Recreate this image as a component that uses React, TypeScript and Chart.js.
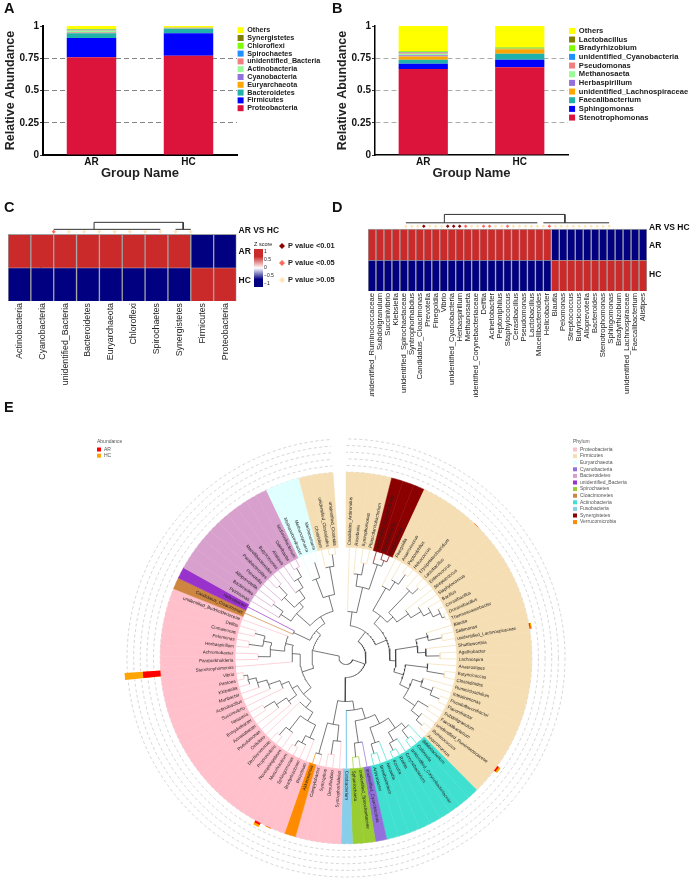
import React, { useEffect, useRef } from "react";
import { Chart, registerables } from "chart.js";
Chart.register(...registerables);

const FONT = "'Liberation Sans', Arial, sans-serif";

// Panels A and B
const groups = ["AR", "HC"];
const yTickLabels = ["0", "0.25", "0.5", "0.75", "1"];
const stackColors = ["#DC143C", "#0000FF", "#20B2AA", "#FFA500", "#9370DB", "#98FB98", "#F08080", "#1E90FF", "#7CFC00", "#808000", "#FFFF00"];
const phylaNames = ["Proteobacteria", "Firmicutes", "Bacteroidetes", "Euryarchaeota", "Cyanobacteria", "Actinobacteria", "unidentified_Bacteria", "Spirochaetes", "Chloroflexi", "Synergistetes", "Others"];
const phylaAR = [0.757, 0.15, 0.036, 0.005, 0.004, 0.012, 0.004, 0.003, 0.003, 0.003, 0.023];
const phylaHC = [0.77, 0.173, 0.036, 0.002, 0.002, 0.002, 0.001, 0.001, 0.001, 0.001, 0.011];
const generaNames = ["Stenotrophomonas", "Sphingomonas", "Faecalibacterium", "unidentified_Lachnospiraceae", "Herbaspirillum", "Methanosaeta", "Pseudomonas", "unidentified_Cyanobacteria", "Bradyrhizobium", "Lactobacillus", "Others"];
const generaAR = [0.666, 0.041, 0.031, 0.025, 0.01, 0.012, 0.01, 0.004, 0.005, 0.003, 0.193];
const generaHC = [0.681, 0.057, 0.046, 0.036, 0.001, 0.001, 0.001, 0.001, 0.009, 0.002, 0.165];

// Panel C
const heatCLabels = ["Actinobacteria", "Cyanobacteria", "unidentified_Bacteria", "Bacteroidetes", "Euryarchaeota", "Chloroflexi", "Spirochaetes", "Synergistetes", "Firmicutes", "Proteobacteria"];
const heatCAR = [1, 1, 1, 1, 1, 1, 1, 1, -1, -1];
const heatCHC = [-1, -1, -1, -1, -1, -1, -1, -1, 1, 1];
const heatCP = [1, 2, 2, 2, 2, 2, 2, 2, 2, 2];
const dendroCTop = [
  [[2.65, 2.15], [2.65, 2.36], [8.5, 2.36], [8.5, 2.15]],
  [[0, 2.15], [7, 2.15]],
  [[8, 2.15], [9, 2.15]],
  [[-0.5, 1.5], [-0.85, 1.5], [-0.85, 0.5], [-0.5, 0.5]],
];

// Panel D
const heatDLabels = ["unidentified_Ruminococcaceae", "Subdoligranulum", "Succinivibrio", "Klebsiella", "unidentified_Spirochaetaceae", "Syntrophorhabdus", "Candidatus_Cloacimonas", "Prevotella", "Finegoldia", "Vibrio", "unidentified_Cyanobacteria", "Herbaspirillum", "Methanosaeta", "unidentified_Corynebacteriaceae", "Delftia", "Acinetobacter", "Peptoniphilus", "Staphylococcus", "Cerasibacillus", "Pseudomonas", "Lactobacillus", "Macellibacteroides", "Helicobacter", "Blautia", "Pelomonas", "Streptococcus", "Butyricicoccus", "Alloprevotella", "Bacteroides", "Stenotrophomonas", "Sphingomonas", "Bradyrhizobium", "unidentified_Lachnospiraceae", "Faecalibacterium", "Alistipes"];
const heatDAR = [1, 1, 1, 1, 1, 1, 1, 1, 1, 1, 1, 1, 1, 1, 1, 1, 1, 1, 1, 1, 1, 1, 1, -1, -1, -1, -1, -1, -1, -1, -1, -1, -1, -1, -1];
const heatDHC = [-1, -1, -1, -1, -1, -1, -1, -1, -1, -1, -1, -1, -1, -1, -1, -1, -1, -1, -1, -1, -1, -1, -1, 1, 1, 1, 1, 1, 1, 1, 1, 1, 1, 1, 1];
const heatDP = [2, 2, 2, 0, 2, 2, 2, 0, 0, 0, 1, 2, 2, 1, 1, 2, 2, 1, 2, 2, 2, 2, 2, 2, 1, 2, 2, 2, 2, 2, 2, 2, 2, 2, 2];
const dendroDTop = [
  [[6.44, 2.2], [6.44, 2.47], [26.6, 2.47], [26.6, 2.2]],
  [[0, 2.2], [22, 2.2]],
  [[23, 2.2], [34, 2.2]],
  [[-0.5, 1.5], [-1.63, 1.5], [-1.63, 0.5], [-0.5, 0.5]],
];
const pColors = ["#8B0000", "#FF6A5A", "#FFE4B5"];
const pLabels = ["P value <0.01", "P value <0.05", "P value >0.05"];
const zTicks = ["1", "0.5", "0", "\u22120.5", "\u22121"];

// Panel E
const phylumColors: Record<string, string> = {
  Proteobacteria: "#FFC0CB", Firmicutes: "#F5DEB3", Euryarchaeota: "#E0FFFF", Cyanobacteria: "#9370DB", Bacteroidetes: "#D8A0CC", unidentified_Bacteria: "#9932CC",
  Spirochaetes: "#9ACD32", Cloacimonetes: "#CD853F", Actinobacteria: "#40E0D0", Fusobacteria: "#87CEEB", Synergistetes: "#8B0000", Verrucomicrobia: "#FF8C00",
};
const phylumRuns: [string, number][] = [["Firmicutes", 4], ["Synergistetes", 3], ["Firmicutes", 31], ["Actinobacteria", 9], ["Cyanobacteria", 1], ["Spirochaetes", 2], ["Fusobacteria", 1], ["Proteobacteria", 4], ["Verrucomicrobia", 1], ["Proteobacteria", 26], ["Cloacimonetes", 1], ["unidentified_Bacteria", 1], ["Bacteroidetes", 10], ["Euryarchaeota", 3], ["Firmicutes", 3]];
const genusLabels = ["Candidatus_Arthromitus", "Roseburia", "Syntrophomonas", "Phascolarctobacterium", "unidentified_Synergistaceae", "Pyramidobacter", "Fretibacterium",
  "Finegoldia", "Anaerococcus", "Peptoniphilus", "Helcococcus", "Erysipelatoclostridium", "Lactobacillus", "Enterococcus", "Streptococcus", "Staphylococcus", "Bacillus", "Cerasibacillus", "Oceanobacillus", "Thermoanaerobacter", "Blautia", "Sellimonas", "unidentified_Lachnospiraceae", "Shuttleworthia", "Agathobacter", "Lachnospira", "Anaerostipes", "Butyricicoccus", "Clostridioides", "Ruminiclostridium", "Intestinimonas", "Pseudoflavonifractor", "Flavonifractor", "Subdoligranulum", "Faecalibacterium", "unidentified_Ruminococcaceae", "Ruminococcus", "Anaerotruncus",
  "Bifidobacterium", "Collinsella", "unidentified_Corynebacteriaceae", "Corynebacterium", "Rothia", "Kocuria", "Nocardia", "Brevibacterium", "Arthrobacter",
  "unidentified_Cyanobacteria", "unidentified_Spirochaetaceae", "Sphaerochaeta", "Cetobacterium",
  "Syntrophorhabdus", "Desulfovibrio", "Syntrophus", "Campylobacter", "Akkermansia",
  "Rhizobium", "Bradyrhizobium", "Sphingomonas", "Mesorhizobium", "Novosphingobium", "Propionivibrio", "Dechloromonas", "Cellvibrio", "Pseudomonas", "Acinetobacter", "Enhydrobacter", "Neisseria", "Succinivibrio", "Actinobacillus", "Muribacter", "Klebsiella", "Pantoea", "Vibrio", "Stenotrophomonas", "Paraburkholderia", "Achromobacter", "Herbaspirillum", "Pelomonas", "Comamonas", "Delftia", "unidentified_Burkholderiaceae",
  "Candidatus_Cloacimonas", "Helicobacter", "Petrimonas", "Bacteroides", "Alloprevotella", "Prevotella", "Parabacteroides", "Macellibacteroides", "Butyricimonas", "Alistipes", "Odoribacter", "Sediminibacterium",
  "Methanobrevibacter", "Methanosphaera", "Methanosaeta", "Clostridium", "unidentified_Clostridiales", "unidentified_Clostridia"];
const abundanceAR: Record<string, number> = { Stenotrophomonas: 0.67, Sphingomonas: 0.08, Bradyrhizobium: 0.008, unidentified_Ruminococcaceae: 0.07, unidentified_Lachnospiraceae: 0.04, Lactobacillus: 0.005 };
const abundanceHC: Record<string, number> = { Stenotrophomonas: 0.69, Sphingomonas: 0.09, Bradyrhizobium: 0.03, unidentified_Ruminococcaceae: 0.08, unidentified_Lachnospiraceae: 0.05, Lactobacillus: 0.01 };
const ringTicks = [0, 0.25, 0.5, 0.75, 1, 1.25];
const phylumLegend = ["Proteobacteria", "Firmicutes", "Euryarchaeota", "Cyanobacteria", "Bacteroidetes", "unidentified_Bacteria", "Spirochaetes", "Cloacimonetes", "Actinobacteria", "Fusobacteria", "Synergistetes", "Verrucomicrobia"];
const abundanceLegend: [string, string][] = [["AR", "#FF0000"], ["HC", "#FFA500"]];

type TreeNode = number | TreeNode[];
const act: TreeNode = [74, [86, [92, 38, [102, 39, 40]], [96, 41, [104, 42, 43]]], [90, 44, [100, 45, 46]]];
const treeRoot: TreeNode = [7,
  [20,
    [32,
      [46, 0, [72, [84, 1, [96, 2, 3]], [98, 4, [104, 5, 6]]]],
      [44,
        [54, [80, 7, [90, 8, [102, 9, 10]]], [62, [92, 11, [100, 12, 13]], [76, 14, [88, 15, [96, 16, [104, 17, [107, 18, 19]]]]]]],
        [50, [72, [84, 20, [98, 21, 22]], [80, 23, [94, 24, 25]]], [60, [82, 26, [100, 27, 28]], [70, [80, 29, [92, 30, [102, 31, 32]]], [84, [96, 33, 34], [94, 35, [102, 36, 37]]]]]],
      ],
    ],
    [44, [53, [64, act, [86, 47, [100, 48, 49]]], 50], [68, [84, 51, [98, 52, 53]], [100, 54, 55]]],
  ],
  [34,
    [46,
      [56,
        [64, [74, [88, 56, [96, 57, [102, 58, 59]]], [92, 60, [102, 61, 62]]], 63],
        [62, [72, 64, [84, 65, [96, 66, 67]]], [70, 68, [82, 69, [92, 70, [100, 71, [104, 72, 73]]]]]],
      ],
      [54, 74, [62, [76, [88, 75, 76], [84, [98, 77, 78], [94, 79, 80]]], 81]],
    ],
    [40, [58, 82, 83], [48,
      [66, [78, 84, [90, 85, 86]], [72, [86, 87, [98, 88, 89]], [82, 90, [92, 91, [102, 92, 93]]]]],
      [64, [84, 94, [100, 95, 96]], [92, 97, [104, 98, 99]]],
    ]],
  ],
];

const leafPhylum: string[] = phylumRuns.flatMap(([p, c]) => Array(c).fill(p));
const CX = 346, CY = 657.5, R_OUT = 186, R_IN = 111, SWEEP = 356;
const leafStep = SWEEP / genusLabels.length;
const DARK = "#3c3c3c";

function zColor(z: number) { return z > 0 ? "#CB2A2A" : "#000080"; }

function stackedChart(canvas: HTMLCanvasElement, names: string[], ar: number[], hc: number[], cfg: any) {
  const legendWidthPlugin = {
    id: "legendWidth",
    beforeLayout(chart: any) {
      const lg = chart.legend;
      if (lg && !lg.__fixed) {
        const orig = lg.fit.bind(lg);
        lg.fit = () => { orig(); lg.width = cfg.legendW; lg.minSize = { width: cfg.legendW, height: lg.height }; };
        lg.__fixed = true;
      }
    },
  };
  return new Chart(canvas, {
    type: "bar",
    data: { labels: groups, datasets: names.map((n, i) => ({ label: n, data: [ar[i], hc[i]], backgroundColor: stackColors[i], borderWidth: 0, barPercentage: 0.51, categoryPercentage: 1 })) },
    plugins: [legendWidthPlugin],
    options: {
      responsive: false, animation: false, events: [],
      layout: { autoPadding: false, padding: { top: 26 } },
      plugins: {
        tooltip: { enabled: false },
        legend: { position: "right", align: "start", reverse: true, labels: { boxWidth: 6, boxHeight: 6, padding: cfg.legendPad, color: "#222", font: { family: FONT, size: cfg.legendFont, weight: "bold" } } },
      },
      scales: {
        x: {
          stacked: true,
          grid: { display: false, drawTicks: false },
          border: { color: "#000", width: cfg.axisW },
          ticks: { color: "#111", padding: 1, font: { family: FONT, size: 10, weight: "bold" } },
          title: { display: true, text: "Group Name", color: "#222", padding: { top: 0, bottom: 1 }, font: { family: FONT, size: 13, weight: "bold" } },
          afterFit: (s: any) => { s.height = 27; },
        },
        y: {
          stacked: true, min: 0, max: 1,
          grid: { color: (c: any) => (c.tick.value > 0 && c.tick.value < 1 ? cfg.gridColor : "transparent"), lineWidth: 0.8, tickColor: "#000", tickLength: 3 },
          border: { color: "#000", width: cfg.axisW, dash: [5, 3] },
          ticks: { stepSize: 0.25, color: "#111", padding: 1, font: { family: FONT, size: 10, weight: "bold" }, callback: (_v: any, i: number) => yTickLabels[i] },
          title: { display: true, text: "Relative Abundance", color: "#222", padding: { top: cfg.titlePad, bottom: 0 }, font: { family: FONT, size: 12.5, weight: "bold" } },
          afterFit: (s: any) => { s.width = cfg.yAxisW; },
        },
      },
    } as any,
  });
}

function heatChart(canvas: HTMLCanvasElement, labels: string[], ar: number[], hc: number[], pClass: number[], dendro: number[][][], cfg: any, extra: any[]) {
  const lines = dendro.map((seg) => ({
    type: "scatter" as const, xAxisID: "xd", showLine: true, clip: false, pointRadius: 0, borderColor: "#333", borderWidth: 1,
    data: seg.map(([x, y]) => ({ x, y })),
  }));
  const markers = {
    type: "scatter" as const, xAxisID: "xd", clip: false, pointStyle: "rectRot", pointRadius: cfg.marker, pointBorderWidth: 0,
    pointBackgroundColor: pClass.map((p) => pColors[p]),
    data: pClass.map((_p, i) => ({ x: i, y: cfg.markerY })),
  };
  return new Chart(canvas, {
    type: "bar",
    data: {
      labels,
      datasets: [
        { label: "AR", grouped: false, data: labels.map(() => [1, 2]), backgroundColor: ar.map(zColor), borderColor: "#a0a0a0", borderWidth: 1, barPercentage: 1, categoryPercentage: 1 },
        { label: "HC", grouped: false, data: labels.map(() => [0, 1]), backgroundColor: hc.map(zColor), borderColor: "#a0a0a0", borderWidth: 1, barPercentage: 1, categoryPercentage: 1 },
        ...lines, markers,
      ] as any,
    },
    plugins: extra,
    options: {
      responsive: false, animation: false, events: [],
      layout: { autoPadding: false, padding: cfg.padding },
      plugins: { legend: { display: false }, tooltip: { enabled: false } },
      scales: {
        x: {
          grid: { display: false, drawTicks: false }, border: { display: false },
          ticks: { autoSkip: false, minRotation: 90, maxRotation: 90, padding: 2, color: "#222", font: { family: FONT, size: cfg.labelSize } },
          afterFit: (s: any) => { s.height = cfg.xH; },
        },
        xd: { type: "linear", display: false, min: -0.5, max: labels.length - 0.5 },
        y: {
          position: "right", min: 0, max: cfg.yMax,
          grid: { display: false, drawTicks: false }, border: { display: false },
          afterBuildTicks: (s: any) => { s.ticks = cfg.rowTicks.map((value: number) => ({ value })); },
          ticks: { padding: 2, color: "#111", font: { family: FONT, size: 8.5, weight: "bold" }, callback: (v: number) => (v < 1 ? "HC" : v < 2 ? "AR" : "AR VS HC") },
          afterFit: (s: any) => { s.width = 45; },
        },
      },
    } as any,
  });
}

const zLegendPlugin = {
  id: "zLegend",
  afterDraw(chart: any) {
    const c = chart.ctx, top = -190;
    c.save();
    c.textBaseline = "middle"; c.fillStyle = "#222";
    c.font = `5.5px ${FONT}`; c.fillText("Z score", 254, top + 244);
    const g = c.createLinearGradient(0, top + 249, 0, top + 287);
    g.addColorStop(0, "#CB2A2A"); g.addColorStop(0.2, "#CB2A2A"); g.addColorStop(0.5, "#FFFFFF"); g.addColorStop(0.8, "#000080"); g.addColorStop(1, "#000080");
    c.fillStyle = g; c.fillRect(254, top + 249, 9, 38);
    c.fillStyle = "#222"; c.font = `5px ${FONT}`;
    zTicks.forEach((t, i) => c.fillText(t, 264, top + 252 + i * 7.8));
    c.font = `bold 7.4px ${FONT}`;
    pLabels.forEach((t, i) => {
      const y = top + 246 + i * 17;
      c.fillStyle = pColors[i];
      c.beginPath(); c.moveTo(282, y - 3); c.lineTo(285, y); c.lineTo(282, y + 3); c.lineTo(279, y); c.closePath(); c.fill();
      c.fillStyle = "#222"; c.fillText(t, 288, y);
    });
    c.restore();
  },
};

const genusTextPlugin = {
  id: "genusText",
  beforeDatasetsDraw(chart: any) {
    const a = chart.getDatasetMeta(0).data[0];
    const c = chart.ctx;
    c.save(); c.fillStyle = "#fff"; c.beginPath(); c.arc(a.x, a.y, a.innerRadius, 0, Math.PI * 2); c.fill(); c.restore();
  },
  afterDatasetsDraw(chart: any) {
    const c = chart.ctx;
    c.save();
    c.font = `4.5px ${FONT}`; c.fillStyle = "#222"; c.textBaseline = "middle";
    chart.getDatasetMeta(0).data.forEach((a: any, i: number) => {
      const mid = (a.startAngle + a.endAngle) / 2, r = a.innerRadius + 2;
      c.save();
      c.translate(a.x + Math.cos(mid) * r, a.y + Math.sin(mid) * r);
      if (Math.cos(mid) >= 0) { c.rotate(mid); c.textAlign = "left"; } else { c.rotate(mid + Math.PI); c.textAlign = "right"; }
      c.fillText(genusLabels[i], 0, 0);
      c.restore();
    });
    c.restore();
  },
};

const eLegendPlugin = {
  id: "eLegend",
  afterDraw(chart: any) {
    const c = chart.ctx;
    c.save();
    c.font = `5px ${FONT}`; c.textBaseline = "middle"; c.fillStyle = "#555";
    c.fillText("Abundance", 97, 42);
    abundanceLegend.forEach(([n, col], i) => {
      const y = 49.5 + i * 6.2;
      c.fillStyle = col; c.fillRect(97, y - 2, 4, 4);
      c.fillStyle = "#555"; c.fillText(n, 104, y);
    });
    c.fillText("Phylum", 573, 42);
    phylumLegend.forEach((n, i) => {
      const y = 49.5 + i * 6.6;
      c.fillStyle = phylumColors[n]; c.fillRect(573, y - 2, 4, 4);
      c.fillStyle = "#555"; c.fillText(n, 580, y);
    });
    c.restore();
  },
};

function buildTree() {
  const groupsMap: Record<string, { x: number; y: number }[]> = {};
  const add = (color: string, pts: { x: number; y: number }[]) => {
    (groupsMap[color] = groupsMap[color] || []).push(...pts, { x: NaN, y: NaN });
  };
  const pt = (r: number, deg: number) => ({ x: r * Math.sin((deg * Math.PI) / 180), y: r * Math.cos((deg * Math.PI) / 180) });
  const leaves = (n: TreeNode): number[] => (typeof n === "number" ? [n] : (n.slice(1) as TreeNode[]).flatMap(leaves));
  const visit = (node: TreeNode[]): number => {
    const r = node[0] as number;
    const kids = node.slice(1) as TreeNode[];
    const angs = kids.map((k) => (typeof k === "number" ? (k + 0.5) * leafStep : visit(k as TreeNode[])));
    const ls = leaves(node);
    const pure = ls.length <= 2 && ls.every((l) => leafPhylum[l] === leafPhylum[ls[0]]);
    const col = pure ? phylumColors[leafPhylum[ls[0]]] : DARK;
    kids.forEach((k, i) => {
      const leaf = typeof k === "number";
      add(leaf ? phylumColors[leafPhylum[k as number]] : col, [pt(r, angs[i]), pt(leaf ? R_IN : ((k as TreeNode[])[0] as number), angs[i])]);
    });
    const a0 = angs[0], a1 = angs[angs.length - 1];
    const arc: { x: number; y: number }[] = [];
    const steps = Math.max(2, Math.ceil((a1 - a0) / 2));
    for (let s = 0; s <= steps; s++) arc.push(pt(r, a0 + ((a1 - a0) * s) / steps));
    add(col, arc);
    return (a0 + a1) / 2;
  };
  visit(treeRoot as TreeNode[]);
  return Object.keys(groupsMap).map((color) => ({ color, pts: groupsMap[color] }));
}

const boxes: Record<string, React.CSSProperties> = {
  A: { left: 0, top: 0 }, B: { left: 331, top: 0 }, C: { left: 0, top: 190 }, D: { left: 345, top: 190 },
  P: { left: CX - 223, top: CY - 223 }, O: { left: CX - R_OUT, top: CY - R_OUT }, T: { left: 0, top: 400 },
};
const sizes: Record<string, [number, number]> = { A: [325, 182], B: [370, 182], C: [345, 205], D: [350, 207], P: [446, 446], O: [R_OUT * 2, R_OUT * 2], T: [695, 480] };
const letters: [string, number, number][] = [["A", 4, 0], ["B", 332, 0], ["C", 4, 199], ["D", 332, 199], ["E", 4, 399]];

export default function App() {
  const refs = useRef<Record<string, HTMLCanvasElement | null>>({});
  useEffect(() => {
    const r = refs.current as Record<string, HTMLCanvasElement>;
    const charts: Chart[] = [];
    charts.push(stackedChart(r.A, phylaNames, phylaAR, phylaHC, { yAxisW: 43, legendFont: 7.2, legendPad: 0.6, legendW: 88, axisW: 2, gridColor: "#666", titlePad: 3 }));
    charts.push(stackedChart(r.B, generaNames, generaAR, generaHC, { yAxisW: 44, legendFont: 7.6, legendPad: 1.07, legendW: 133, axisW: 1.5, gridColor: "#999", titlePad: 4 }));
    charts.push(heatChart(r.C, heatCLabels, heatCAR, heatCHC, heatCP, dendroCTop, { padding: { left: 8, top: 25, right: 63.5 }, marker: 2, markerY: 2.08, rowTicks: [0.6, 1.47, 2.1], yMax: 2.58, xH: 94, labelSize: 8.8 }, [zLegendPlugin]));
    charts.push(heatChart(r.D, heatDLabels, heatDAR, heatDHC, heatDP, dendroDTop, { padding: { left: 23, top: 20.4, right: 3 }, marker: 1.8, markerY: 2.09, rowTicks: [0.52, 1.45, 2.05], yMax: 2.6, xH: 106, labelSize: 7.6 }, []));

    const sliceLabels = genusLabels.flatMap((g) => ["", g, ""]).concat(["gap"]);
    const sliced = (src: Record<string, number>, base?: Record<string, number>) =>
      genusLabels.flatMap((g) => [0, (src[g] || 0) + (base ? base[g] || 0 : 0), 0]).concat([1.4]);
    const angle = (c: any) => (c.dataIndex === sliceLabels.length - 1 ? 360 - SWEEP : c.dataIndex % 3 === 1 ? leafStep / 2 : leafStep / 4);
    const fill = (col: string) => (c: any) => (c.dataIndex === sliceLabels.length - 1 ? "#fff" : c.raw > 0 ? col : "transparent");
    charts.push(new Chart(r.P, {
      type: "polarArea",
      data: {
        labels: sliceLabels,
        datasets: [
          { label: "AR", data: sliced(abundanceAR), backgroundColor: fill("#FF0000"), borderWidth: 0, angle },
          { label: "HC", data: sliced(abundanceHC, abundanceAR), backgroundColor: fill("#FFA500"), borderWidth: 0, angle },
        ] as any,
      },
      options: {
        responsive: false, animation: false, events: [],
        plugins: { legend: { display: false }, tooltip: { enabled: false } },
        scales: {
          r: {
            min: -7, max: 1.4,
            afterBuildTicks: (s: any) => { s.ticks = ringTicks.map((value) => ({ value })); },
            ticks: { display: false },
            grid: { circular: true, color: "#bbbbbb", lineWidth: 0.6 },
            border: { dash: [3, 2.5] },
            angleLines: { display: false },
          },
        },
      } as any,
    }));

    const sliceFill = leafPhylum.map((p) => phylumColors[p]);
    charts.push(new Chart(r.O, {
      type: "doughnut",
      data: { labels: genusLabels, datasets: [{ data: genusLabels.map(() => 1), backgroundColor: sliceFill, borderColor: sliceFill, borderWidth: 0.5 }] },
      plugins: [genusTextPlugin],
      options: { responsive: false, animation: false, events: [], rotation: 0, circumference: SWEEP, cutout: `${(R_IN / R_OUT) * 100}%`, plugins: { legend: { display: false }, tooltip: { enabled: false } } } as any,
    }));

    const tree = buildTree();
    charts.push(new Chart(r.T, {
      type: "scatter",
      data: { datasets: tree.map((t) => ({ data: t.pts, showLine: true, spanGaps: false, pointRadius: 0, borderColor: t.color, borderWidth: 0.7 })) },
      plugins: [eLegendPlugin],
      options: {
        responsive: false, animation: false, events: [],
        layout: { autoPadding: false },
        plugins: { legend: { display: false }, tooltip: { enabled: false } },
        scales: { x: { type: "linear", display: false, min: -CX, max: 695 - CX }, y: { type: "linear", display: false, min: -(880 - CY), max: CY - 400 } },
      } as any,
    }));
    return () => charts.forEach((c) => c.destroy());
  }, []);
  return (
    <div style={{ position: "absolute", left: 0, top: 0, width: 695, height: 880, overflow: "hidden", background: "#fff" }}>
      {Object.keys(boxes).map((k) => (
        <canvas key={k} ref={(el) => { refs.current[k] = el; }} width={sizes[k][0]} height={sizes[k][1]} style={{ position: "absolute", display: "block", ...boxes[k] }} />
      ))}
      {letters.map(([t, l, y]) => (
        <div key={t} style={{ position: "absolute", left: l, top: y, fontFamily: FONT, fontWeight: "bold", fontSize: 14.5, lineHeight: "16px", color: "#111" }}>{t}</div>
      ))}
    </div>
  );
}
